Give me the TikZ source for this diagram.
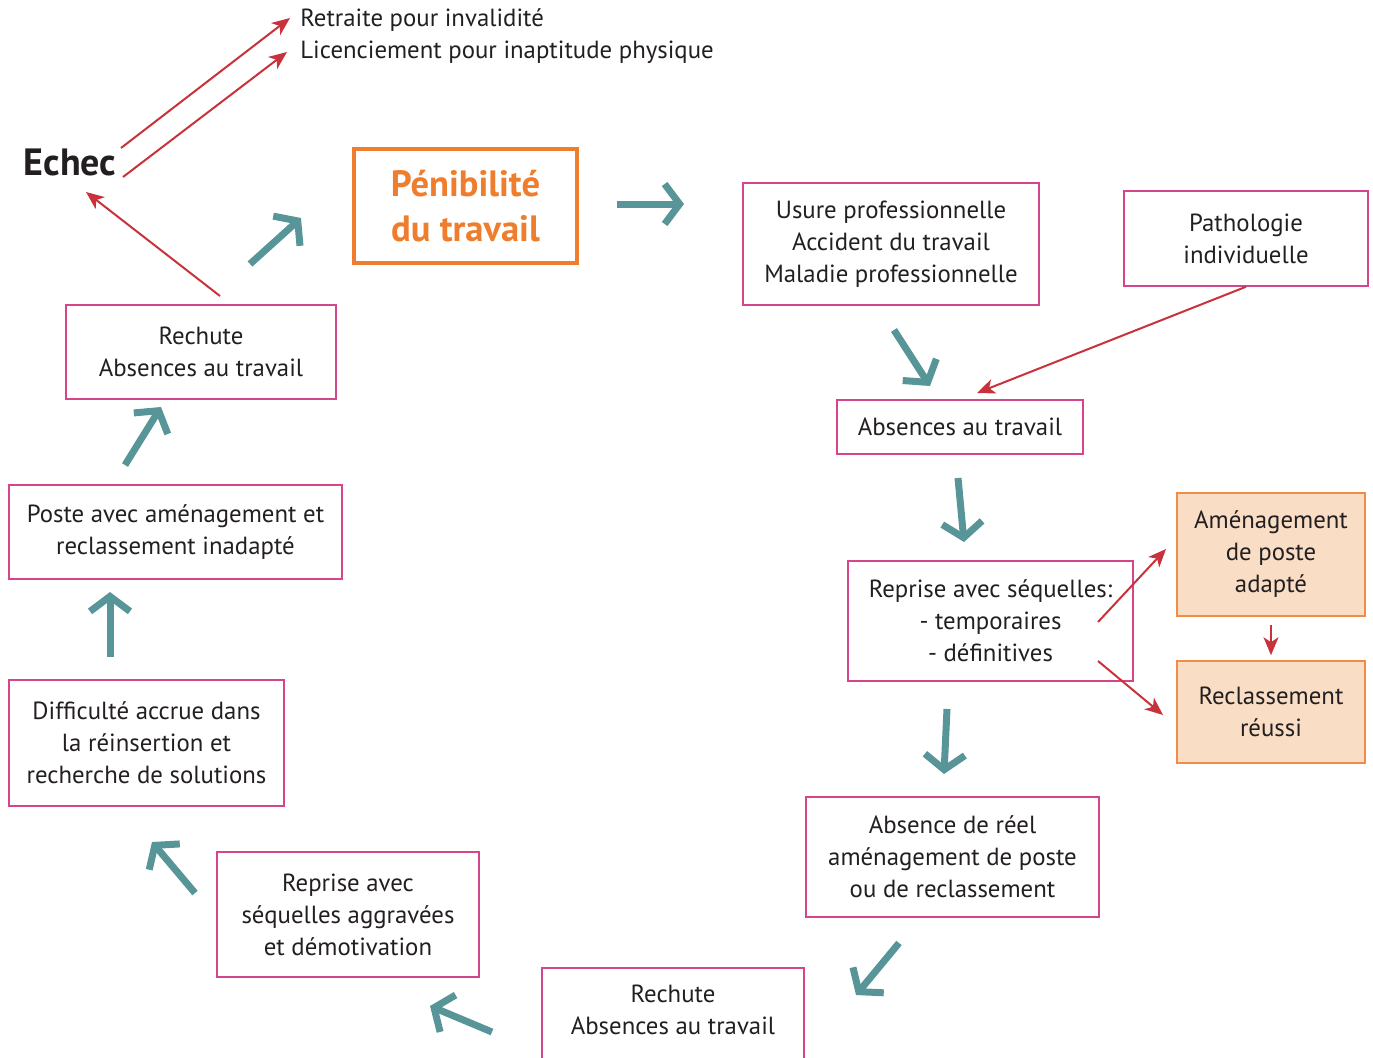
\documentclass[tikz,border=0pt]{standalone}
\usepackage{fontspec}
\setmainfont{PT Sans}
\usetikzlibrary{arrows.meta}
\definecolor{tealc}{RGB}{87,149,153}
\definecolor{redc}{RGB}{200,50,58}
\definecolor{pinkc}{RGB}{214,69,140}
\definecolor{orangec}{RGB}{238,125,45}
\definecolor{ofill}{RGB}{249,221,196}
\definecolor{oborder}{RGB}{240,140,70}
\definecolor{txtc}{RGB}{35,31,32}
\begin{document}
\begin{tikzpicture}[x=0.5pt,y=-0.5pt,
  every node/.style={text=txtc, font=\fontsize{12.4}{16}\selectfont, inner sep=0pt, align=center},
  box/.style={draw=pinkc, line width=0.75pt},
  obox/.style={draw=oborder, fill=ofill, line width=0.75pt},
  tarrow/.style={draw=tealc, line width=3.5pt, -{Straight Barb[length=7.5pt,width=20pt,sharp]}},
  rarrow/.style={draw=redc, line width=1pt, -{Stealth[length=9pt,width=7.5pt,inset=2.5pt]}}]
\useasboundingbox (0,0) rectangle (1373,1057);
% boxes
\node[draw=orangec, line width=2pt, minimum width=111.5pt, minimum height=57pt,
  text=orangec, font=\fontsize{18.3}{22.5}\selectfont\bfseries] (penib) at (465.5,206) {Pénibilité\\du travail};
\node[box, minimum width=148pt, minimum height=61pt] (usure) at (891,244) {Usure professionnelle\\Accident du travail\\Maladie professionnelle};
\node[box, minimum width=122pt, minimum height=47.5pt] (patho) at (1246,238.5) {Pathologie\\individuelle};
\node[box, minimum width=123pt, minimum height=27pt] (abs) at (960,427) {Absences au travail};
\node[box, minimum width=142.5pt, minimum height=60pt] (repr) at (990.5,621) {Reprise avec séquelles:\\- temporaires\\- définitives};
\node[obox, minimum width=94pt, minimum height=61.5pt] (amen) at (1271,554.5) {Aménagement\\de poste\\adapté};
\node[obox, minimum width=94pt, minimum height=51pt] (recl) at (1271,712) {Reclassement\\réussi};
\node[box, minimum width=146.5pt, minimum height=60pt] (absreel) at (952.5,857) {Absence de réel\\aménagement de poste\\ou de reclassement};
\node[box, minimum width=131pt, minimum height=60pt] (rech2) at (673,1028) {};
\node (rech2t) at (673,1010) {Rechute\\Absences au travail};
\node[box, minimum width=131pt, minimum height=62.5pt] (repr2) at (348,914.5) {Reprise avec\\séquelles aggravées\\et démotivation};
\node[box, minimum width=137.5pt, minimum height=63pt] (diff) at (146.5,743) {Difficulté accrue dans\\la réinsertion et\\recherche de solutions};
\node[box, minimum width=166.5pt, minimum height=47pt] (poste) at (175.5,532) {Poste avec aménagement et\\reclassement inadapté};
\node[box, minimum width=135pt, minimum height=47pt] (rech1) at (201,352) {Rechute\\Absences au travail};
\node[font=\fontsize{19}{20}\selectfont\bfseries] (echec) at (70,162) {Echec};
\node[anchor=west] (retr) at (300,20) {Retraite pour invalidité};
\node[anchor=west] (lic) at (300,52) {Licenciement pour inaptitude physique};
% coordinates for teal arrows
\coordinate (t1a) at (250,264); \coordinate (t1b) at (301,218);
\coordinate (t2a) at (617,204); \coordinate (t2b) at (684,204);
\coordinate (t3a) at (894,330); \coordinate (t3b) at (930,386);
\coordinate (t4a) at (958,478); \coordinate (t4b) at (964,542);
\coordinate (t5a) at (947,709); \coordinate (t5b) at (944,774);
\coordinate (t6a) at (899,943); \coordinate (t6b) at (856,995);
\coordinate (t7a) at (492,1032); \coordinate (t7b) at (430,1006);
\coordinate (t8a) at (195,893); \coordinate (t8b) at (152,842);
\coordinate (t9a) at (110,657); \coordinate (t9b) at (110,592);
\coordinate (t10a) at (125,465); \coordinate (t10b) at (161,407);
\foreach \i in {1,...,10} {\draw[tarrow] (t\i a) -- (t\i b);}
% red arrows
\coordinate (r1a) at (121,148); \coordinate (r2a) at (123,177);
\coordinate (r3a) at (220,296);
\draw[rarrow] (r1a) -- ([xshift=-5pt,yshift=1pt]retr.west);
\draw[rarrow] (r2a) -- ([xshift=-6.5pt]lic.west);
\draw[rarrow] (r3a) -- (86,192) coordinate (r3b);
\draw[rarrow] (patho.south) -- (977,393) coordinate (r4b);
\coordinate (r5a) at (1098,622); \coordinate (r5b) at (1166,549);
\coordinate (r6a) at (1098,661); \coordinate (r6b) at (1163,715);
\draw[rarrow] (r5a) -- (r5b);
\draw[rarrow] (r6a) -- (r6b);
\draw[rarrow] ([yshift=-4pt]amen.south) -- ([yshift=2.5pt]recl.north);
\end{tikzpicture}
\end{document}
